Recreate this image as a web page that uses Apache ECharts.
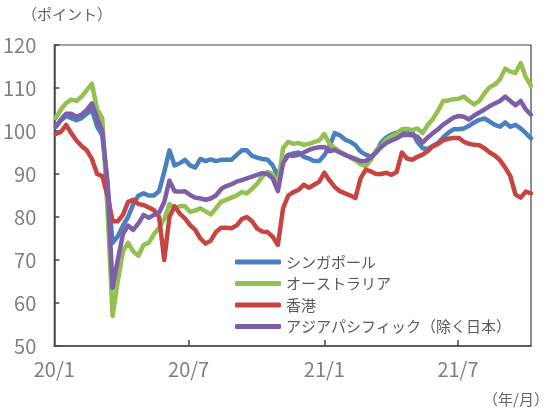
<!DOCTYPE html>
<html>
<head>
<meta charset="utf-8">
<script src="https://cdn.jsdelivr.net/npm/echarts@6/dist/echarts.min.js"></script>
<style>
html,body{margin:0;padding:0;background:#fff;}
#c{width:550px;height:418px;}
</style>
</head>
<body>
<div id="c"></div>
<script>
// Weekly observations (Fridays) starting 2020-01-03; x measured in days since 2020-01-01
const firstWeek = '2020-01-03';
const lastDay = '2021-10-08';
const seriesNames = ['シンガポール', 'オーストラリア', '香港', 'アジアパシフィック（除く日本）'];
const xTickLabels = ['2020-01-01', '2020-07-01', '2021-01-01', '2021-07-01'];

const singapore = [101,102.5,103.5,103,102.5,103,104,105,101,99,88,74,75.5,78,80,83,85,85.5,85,85,86,90.5,95.5,92,92.5,93.3,92,91.5,93.5,93,93.4,93,93.3,93.3,93.3,94.4,95.5,95.5,94.2,93.8,93.5,93.3,92,89.5,93.5,94.4,94.8,95,94,93.6,93,93,94.4,96.5,99.5,99,98,97.5,96.7,95.2,94.5,94,95,97.3,98.5,99.2,99.6,99.8,100.2,99.7,97.5,96,95.8,96.5,97.2,98.5,99.6,100.4,100.4,100.6,101.2,102,102.6,102.9,102.2,101.4,101,102,101,101.4,100.6,99.5,98.3];
const australia = [103,105,106.5,107.3,107,108,109.5,111,105,103,82,57,65,72,74,72,71,73.5,74,76,77.5,79.5,83,82,82.5,82.5,81.2,81.5,82,81.3,80.6,82,83.5,84,84.5,85,85.8,85.5,86.5,87.8,89.4,90.5,90,87.5,96,97.5,97,97.2,96.8,97,97.4,97.8,99.3,97,96,95.2,94.6,93.8,93.2,92.3,91.8,93.3,95.5,96.5,98,98.8,99.4,100.4,100.5,100.2,100.6,99.5,101.4,102.8,104.7,107,107.1,107.4,107.5,108,107,106.2,107,108.8,110.2,110.8,112,114.5,113.8,113.5,115.8,112.5,110.5];
const hongkong = [99.3,99.8,101.4,99.5,97.8,96.5,95.5,93.5,90,89.5,85,79,79,80.5,83.5,84,83,82.8,82.2,81.6,80,70,80,82.5,80.8,79.7,78.1,77,75,73.8,74.5,76.5,77.5,77.5,77.4,78,79.5,80,79,77.3,76.6,76.5,75.4,73.5,82,85,85.8,86.3,87.5,86.8,87.5,88.2,90.3,88.5,87,86,85.5,85,84.4,89,91,90.6,90,90,90.3,89.8,90.5,95,93.6,93.3,94,94.5,95.3,96.5,97,97.8,98.2,98.4,98.4,97.5,97,96.8,96.7,96,95,94.3,93.2,91.5,89.5,85.2,84.5,85.9,85.5];
const asiaPacExJapan = [101,102.6,104,104,103.3,103.8,104.9,106.4,103,100,88,63.5,70,76,78,77,78.5,80.5,79.8,80.5,81,83.5,88.5,86,85.9,86,85.1,84.5,84.3,84,84.3,85,86.5,87.2,87.6,88.2,88.6,89,89.4,89.8,90.2,90,89,86,92.5,94.4,94.2,94.5,95,95.6,96,96.2,96.3,95.3,95.6,95,94.4,94,93.5,93,93,93.8,95,96.3,97.2,97.8,98.3,99,99.1,99,98.7,97.3,98.5,99.5,100.4,101.5,102.3,103.1,103.5,103.3,102.7,103.6,104.3,105,105.8,106.4,107,108,107,106,107,105,103.8];

const colors = ['#4a7fc0', '#92c152', '#c64542', '#7e5ea7'];

const DAY = 86400000;
function utc(s) { const p = s.split('-').map(Number); return Date.UTC(p[0], p[1] - 1, p[2]); }
const origin = utc('2020-01-01');
function dayIndex(s) { return Math.round((utc(s) - origin) / DAY); }
const firstIdx = dayIndex(firstWeek);
function toPairs(arr) { return arr.map((v, i) => [firstIdx + 7 * i, v]); }
const labelVals = xTickLabels.map(dayIndex);
const tickVals = labelVals.slice(1);
const valueSets = [singapore, australia, hongkong, asiaPacExJapan];

const FONT = '"Noto Sans CJK JP", "Noto Sans", sans-serif';
const chart = echarts.init(document.getElementById('c'), null, {renderer: 'canvas'});
chart.setOption({
  animation: false,
  backgroundColor: '#fff',
  textStyle: {fontFamily: FONT},
  grid: {left: 54, top: 45, right: 19, bottom: 72, show: true, borderColor: '#444', borderWidth: 1.2, backgroundColor: 'transparent'},
  legend: {
    orient: 'vertical', left: 230, top: 249,
    icon: 'roundRect', itemWidth: 46, itemHeight: 5, itemGap: 5.5,
    textStyle: {fontSize: 15, color: '#595959', lineHeight: 16, fontFamily: FONT},
    data: seriesNames
  },
  graphic: [
    {type: 'text', left: 22, top: 7, style: {text: '（ポイント）', fontSize: 15, fill: '#666', fontFamily: FONT}},
    {type: 'text', right: 1, top: 392, style: {text: '（年/月）', fontSize: 15, fill: '#666', fontFamily: FONT}}
  ],
  xAxis: {
    type: 'value',
    min: 0,
    max: dayIndex(lastDay),
    axisLine: {show: true, lineStyle: {color: '#444', width: 1.5}},
    axisTick: {show: true, inside: true, length: 6, lineStyle: {color: '#444', width: 1.5}, customValues: tickVals},
    axisLabel: {
      customValues: labelVals, fontSize: 20, color: '#7f7f7f', margin: 13, fontFamily: FONT,
      formatter: function (v) { const d = new Date(origin + v * DAY); return String(d.getUTCFullYear()).slice(2) + '/' + (d.getUTCMonth() + 1); }
    },
    splitLine: {show: false}
  },
  yAxis: {
    type: 'value', min: 50, max: 120, interval: 10,
    axisLine: {show: true, lineStyle: {color: '#444', width: 1.5}},
    axisTick: {show: true, inside: true, length: 5, lineStyle: {color: '#444', width: 1.5}},
    axisLabel: {fontSize: 20, color: '#7f7f7f', margin: 18, fontFamily: FONT},
    splitLine: {show: false}
  },
  series: seriesNames.map((n, i) => ({
    name: n, type: 'line', data: toPairs(valueSets[i]),
    showSymbol: false, symbol: 'none', smooth: false,
    color: colors[i],
    lineStyle: {width: 4.5, color: colors[i], cap: 'round', join: 'round'}
  }))
});
</script>
</body>
</html>
